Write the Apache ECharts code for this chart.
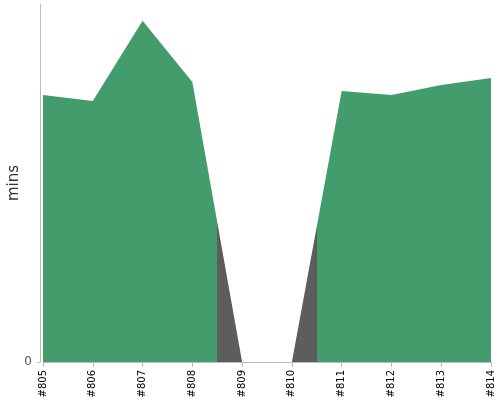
<!DOCTYPE html>
<html>
<head>
<meta charset="utf-8">
<script src="https://cdn.jsdelivr.net/npm/echarts@6/dist/echarts.min.js"></script>
<style>
html, body { margin: 0; padding: 0; background: #fff; }
#charts { width: 500px; height: 400px; }
</style>
</head>
<body>
<div id="charts"></div>
<script>
// build numbers and durations (mins)
var builds = ['#805', '#806', '#807', '#808', '#809', '#810', '#811', '#812', '#813', '#814'];
var durations = [7.46, 7.29, 9.53, 7.82, 0, 0, 7.57, 7.46, 7.74, 7.93];
var failed = ['#809', '#810'];
var yTicks = [0];

var green = '#439c6c';
var grey = '#5d5d5d';

// colour stops: each build owns the half-way band around its point
function buildStops() {
    var n = builds.length - 1;
    var stops = [];
    for (var i = 0; i < builds.length; i++) {
        var c = failed.indexOf(builds[i]) >= 0 ? grey : green;
        stops.push({ offset: Math.max(0, (i - 0.5) / n), color: c });
        stops.push({ offset: Math.min(1, (i + 0.5) / n), color: c });
    }
    return stops;
}

var myChart = echarts.init(document.getElementById('charts'));

var option = {
    animation: false,
    grid: { left: 43, right: 9, top: 4, bottom: 38, outerBoundsMode: 'none', containLabel: false },
    xAxis: {
        type: 'category',
        boundaryGap: false,
        data: builds,
        axisLine: { lineStyle: { color: '#bbb' } },
        axisTick: { length: 5, lineStyle: { color: '#bbb' } },
        axisLabel: {
            rotate: 90,
            fontSize: 10,
            color: '#000',
            fontFamily: 'DejaVu Sans',
            interval: 0
        }
    },
    yAxis: {
        type: 'value',
        min: 0,
        max: 10,
        offset: 3,
        name: 'mins',
        nameLocation: 'middle',
        nameGap: 18,
        nameMoveOverlap: false,
        nameTextStyle: { fontSize: 15, color: '#333', fontFamily: 'DejaVu Sans' },
        axisLine: { show: true, lineStyle: { color: '#bbb' } },
        axisTick: { show: true, length: 3, customValues: yTicks, lineStyle: { color: '#bbb' } },
        splitLine: { show: false },
        axisLabel: { customValues: yTicks, fontSize: 12, color: '#555', fontFamily: 'DejaVu Sans' }
    },
    series: [{
        type: 'line',
        data: durations,
        symbol: 'none',
        lineStyle: { width: 0 },
        areaStyle: {
            opacity: 1,
            color: new echarts.graphic.LinearGradient(0, 0, 1, 0, buildStops())
        }
    }]
};

myChart.setOption(option);
</script>
</body>
</html>
